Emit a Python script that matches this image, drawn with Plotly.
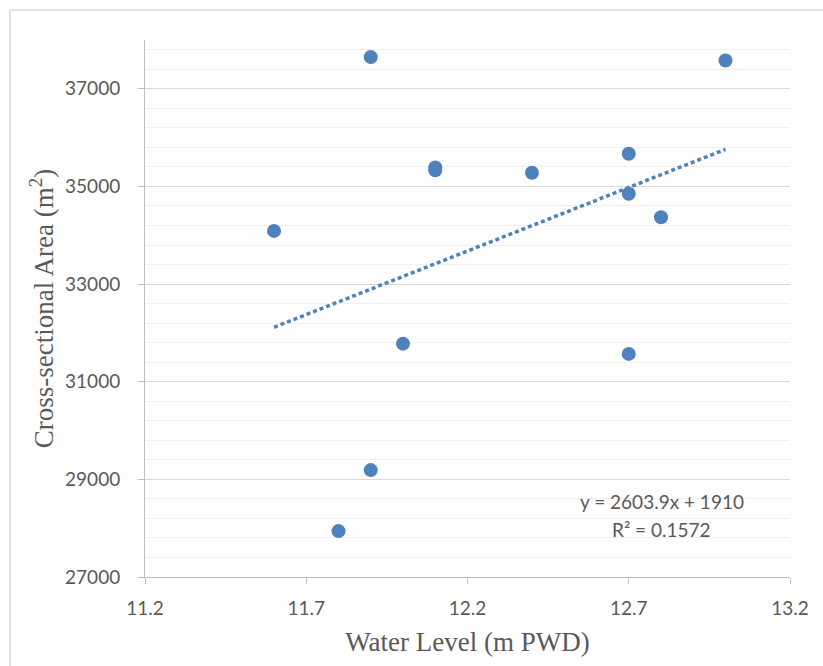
import plotly.graph_objects as go

# Data
water_level = [11.9, 13.0, 12.1, 12.1, 12.4, 12.7, 12.7, 12.8, 11.6, 12.0, 12.7, 11.9, 11.8]
cross_area = [37650, 37580, 35390, 35330, 35280, 35670, 34850, 34370, 34090, 31780, 31570, 29190, 27940]

# Trendline as printed on the chart
slope = 2603.9
intercept = 1910
r_squared = 0.1572

x_ticks = [11.2, 11.7, 12.2, 12.7, 13.2]
y_ticks = [27000, 29000, 31000, 33000, 35000, 37000]

blue = "#4f81bd"
grey_text = "#595959"
tick_font = dict(family="Lato, Open Sans, sans-serif", size=19, color=grey_text)
title_font = dict(family="Liberation Serif, Times New Roman, serif", size=27, color=grey_text)

x_fit = [min(water_level), max(water_level)]
y_fit = [slope * v + intercept for v in x_fit]

fig = go.Figure()
fig.add_trace(go.Scatter(
    x=x_fit, y=y_fit, mode="lines",
    line=dict(color=blue, width=3.5, dash="4px,3px"),
    hoverinfo="skip", showlegend=False,
))
fig.add_trace(go.Scatter(
    x=water_level, y=cross_area, mode="markers",
    marker=dict(color=blue, size=14, line=dict(width=0)),
    showlegend=False,
))

fig.update_layout(
    width=823, height=666,
    margin=dict(l=145, r=33, t=40, b=89),
    paper_bgcolor="white", plot_bgcolor="white",
    showlegend=False,
)
fig.update_xaxes(
    range=[11.2, 13.2], tickvals=x_ticks, ticktext=[f"{v:.1f}" for v in x_ticks],
    showgrid=False, zeroline=False,
    showline=True, linecolor="#bfbfbf", linewidth=1,
    ticks="outside", ticklen=6, tickcolor="#bfbfbf",
    tickfont=tick_font, ticklabelstandoff=8,
    title=dict(text="Water Level (m PWD)", font=title_font, standoff=14),
)
fig.update_yaxes(
    range=[27000, 38000], tickvals=y_ticks, ticktext=[str(v) for v in y_ticks],
    showgrid=True, gridcolor="#d9d9d9", gridwidth=1, zeroline=False,
    minor=dict(dtick=400, tick0=27000, showgrid=True, gridcolor="#f0f0f0", gridwidth=1),
    showline=True, linecolor="#bfbfbf", linewidth=1,
    ticks="outside", ticklen=6, tickcolor="#bfbfbf",
    tickfont=tick_font, ticklabelstandoff=14,
    title=dict(text="Cross-sectional Area (m<sup>2</sup>)", font=title_font, standoff=3),
)

fig.add_annotation(
    x=12.803, y=28537, xref="x", yref="y",
    text=f"y = {slope}x + {intercept}", showarrow=False,
    font=tick_font, xanchor="center", yanchor="middle",
)
fig.add_annotation(
    x=12.803, y=27963, xref="x", yref="y",
    text=f"R² = {r_squared}", showarrow=False,
    font=tick_font, xanchor="center", yanchor="middle",
)

# chart-area border
fig.add_shape(
    type="rect", xref="paper", yref="paper",
    x0=(10 - 145) / 645, x1=1.2, y0=-0.3, y1=1 + 30 / 537,
    line=dict(color="#d9d9d9", width=1.5), fillcolor="rgba(0,0,0,0)", layer="below",
)

fig.write_html("out.html")
